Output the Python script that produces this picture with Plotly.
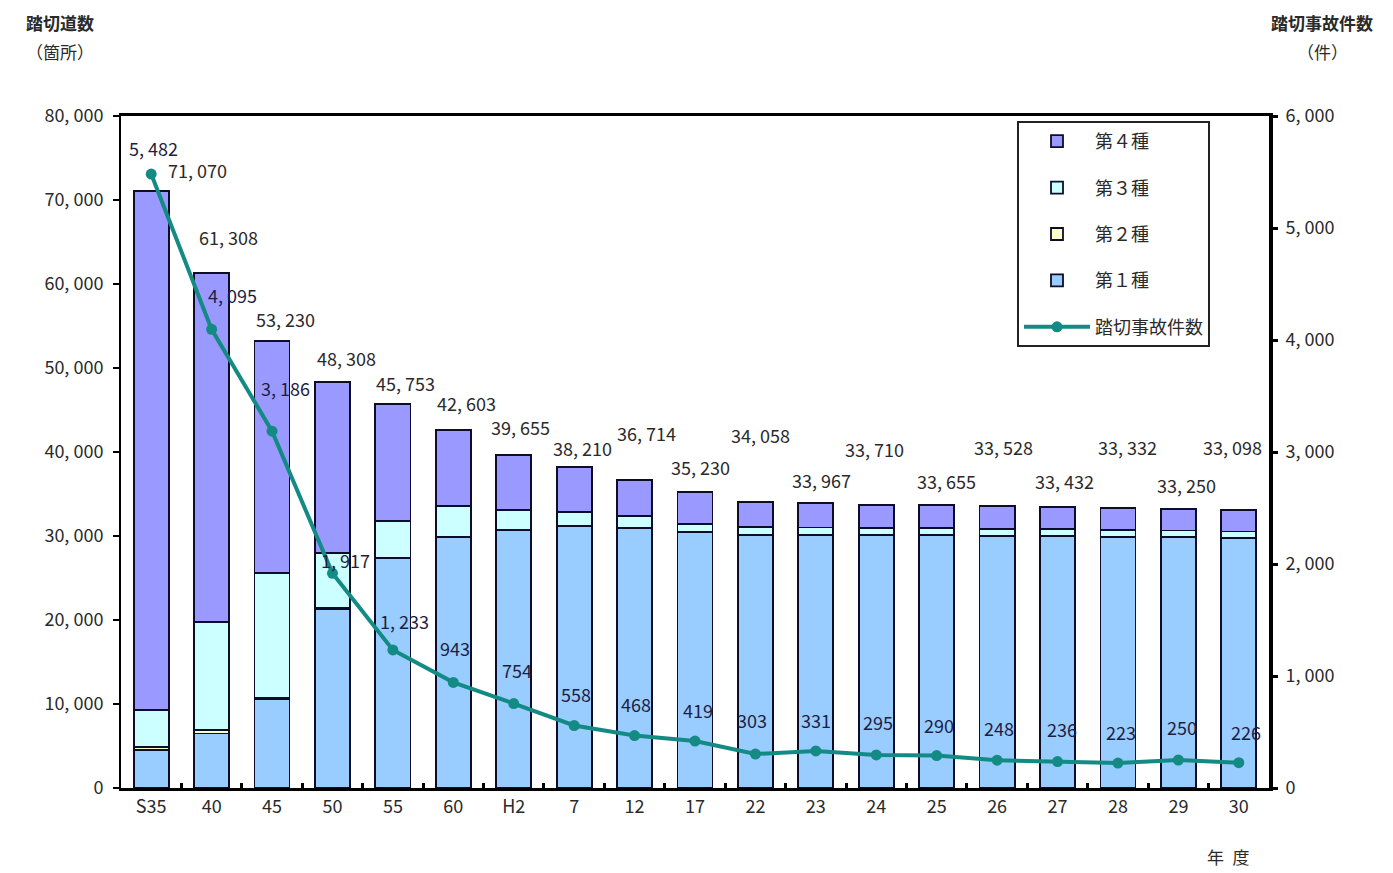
import plotly.graph_objects as go

# ---- data ----
years = ["S35", "40", "45", "50", "55", "60", "H2", "7", "12", "17",
         "22", "23", "24", "25", "26", "27", "28", "29", "30"]
type1 = [4500, 6500, 10600, 21300, 27400, 29840, 30700, 31230, 30990, 30480,
         30100, 30100, 30050, 30050, 30000, 29950, 29900, 29850, 29750]
type2 = [400, 400, 100, 100, 50, 40, 30, 30, 30, 30,
         30, 30, 30, 30, 30, 30, 30, 30, 30]
type3 = [4400, 12900, 14860, 6540, 4340, 3690, 2370, 1640, 1360, 920,
         900, 880, 860, 840, 820, 810, 790, 780, 760]
type4 = [61770, 41508, 27670, 20368, 13963, 9033, 6555, 5310, 4334, 3800,
         3028, 2957, 2770, 2735, 2678, 2642, 2612, 2590, 2558]
totals = [71070, 61308, 53230, 48308, 45753, 42603, 39655, 38210, 36714, 35230,
          34058, 33967, 33710, 33655, 33528, 33432, 33332, 33250, 33098]
accidents = [5482, 4095, 3186, 1917, 1233, 943, 754, 558, 468, 419,
             303, 331, 295, 290, 248, 236, 223, 250, 226]

left_ticks = [0, 10000, 20000, 30000, 40000, 50000, 60000, 70000, 80000]
right_ticks = [0, 1000, 2000, 3000, 4000, 5000, 6000]

# label offsets (pixels) for staggered labels
total_dx = [46, 17, 13, 14, 13, 13, 7, 8, 12, 5, 5, 6, -2, 10, 6, 7, 10, 8, -6]
total_dy = [21, 36, 22, 24, 21, 27, 28, 19, 47, 25, 67, 23, 56, 24, 59, 26, 61, 24, 63]
acc_dx = [2, 21, 13, 13, 12, 2, 3, 2, 1, 3, -3, 0, 2, 2, 2, 4, 3, 4, 7]
acc_dy = [26, 34, 43, 13, 29, 34, 34, 32, 32, 31, 34, 31, 33, 31, 32, 33, 31, 33, 31]


def fmt(v):
    return f"{v:,}".replace(",", ", ")


FONT = "Noto Sans CJK JP"
TXT = "#2a2a2a"
EDGE = "#0d0d2a"

fig = go.Figure()
series = [("第１種", type1, "#99CCFF", 4),
          ("第２種", type2, "#FFFFCC", 3),
          ("第３種", type3, "#CCFFFF", 2),
          ("第４種", type4, "#9999FF", 1)]
for name, vals, col, rank in series:
    fig.add_trace(go.Bar(
        x=years, y=vals, name=name, marker=dict(color=col, line=dict(color=EDGE, width=1.8)),
        legendrank=rank, legendgroup=name, hoverinfo="x+y+name"))

fig.add_trace(go.Scatter(
    x=years, y=accidents, name="踏切事故件数", yaxis="y2", mode="lines+markers",
    line=dict(color="#148A84", width=4), marker=dict(size=11, color="#148A84"),
    legendrank=5, legendgroup="acc"))

for i, t in enumerate(totals):
    fig.add_annotation(x=i, y=t, xref="x", yref="y", text=fmt(t), showarrow=False,
                       xshift=total_dx[i], yshift=total_dy[i],
                       font=dict(family=FONT, size=18, color=TXT))
for i, a in enumerate(accidents):
    fig.add_annotation(x=i, y=a, xref="x", yref="y2", text=fmt(a), showarrow=False,
                       xshift=acc_dx[i], yshift=acc_dy[i],
                       font=dict(family=FONT, size=18, color="#1e1e44"))

# axis titles
for txt, x, y in [("<b>踏切道数</b>", 60, 22), ("（箇所）", 60, 52),
                  ("<b>踏切事故件数</b>", 1322, 22), ("（件）", 1322, 52), ("年\u2002度", 1228, 856)]:
    fig.add_annotation(x=(x - 121) / 1148, y=1 - (y - 116) / 672, xref="paper", yref="paper",
                       text=txt, showarrow=False, xanchor="center", yanchor="middle",
                       font=dict(family=FONT, size=17, color=TXT))

fig.update_layout(
    width=1393, height=873,
    margin=dict(l=121, r=124, t=116, b=85),
    paper_bgcolor="white", plot_bgcolor="white",
    barmode="stack", bargap=0.42,
    font=dict(family=FONT, size=18, color=TXT),
    showlegend=True,
    legend=dict(x=(1017 - 121) / 1148, y=1 - (121 - 116) / 672, xanchor="left", yanchor="top",
                bordercolor="#222222", borderwidth=2, bgcolor="white",
                traceorder="grouped", tracegroupgap=20,
                font=dict(family=FONT, size=18, color=TXT), itemwidth=66),
    xaxis=dict(type="category", range=[-0.5, 18.5], showline=True, linecolor="black",
               linewidth=3, mirror=True, ticks="inside", tickson="boundaries", ticklen=5,
               tickwidth=3, tickcolor="black", showgrid=False,
               tickfont=dict(family=FONT, size=18, color=TXT)),
    yaxis=dict(range=[0, 80000], tickvals=left_ticks, ticktext=[fmt(v) for v in left_ticks],
               showline=True, linecolor="black", linewidth=2, ticks="outside", ticklen=6,
               tickwidth=2, tickcolor="black", showgrid=False, zeroline=False,
               ticklabelstandoff=6, tickfont=dict(family=FONT, size=18, color=TXT)),
    yaxis2=dict(range=[0, 6000], overlaying="y", side="right", tickvals=right_ticks,
                ticktext=[fmt(v) for v in right_ticks], showline=True, linecolor="black",
                linewidth=4, ticks="outside", ticklen=5, tickwidth=3, tickcolor="black",
                showgrid=False, zeroline=False, ticklabelstandoff=4,
                tickfont=dict(family=FONT, size=18, color=TXT)),
)

fig.write_html("out.html")
